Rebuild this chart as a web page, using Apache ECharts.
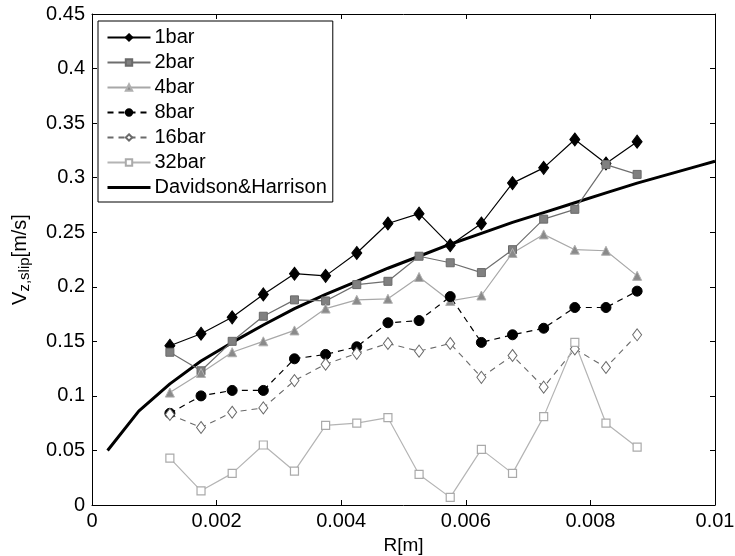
<!DOCTYPE html>
<html><head><meta charset="utf-8">
<script src="https://cdn.jsdelivr.net/npm/echarts@6/dist/echarts.min.js"></script>
<style>html,body{margin:0;padding:0;background:#fff}#c{width:735px;height:556px}</style>
</head><body><div id="c"></div>
<script>
const radii = [0.00125,0.00175,0.00225,0.00275,0.00325,0.00375,0.00425,0.00475,0.00525,0.00575,0.00625,0.00675,0.00725,0.00775,0.00825,0.00875];
const bar1  = [0.146,0.157,0.172,0.193,0.212,0.210,0.231,0.258,0.267,0.238,0.258,0.295,0.309,0.335,0.313,0.333];
const bar2  = [0.140,0.123,0.150,0.173,0.188,0.187,0.202,0.205,0.228,0.222,0.213,0.234,0.262,0.271,0.312,0.303];
const bar4  = [0.103,0.121,0.140,0.150,0.160,0.180,0.188,0.189,0.209,0.187,0.192,0.231,0.248,0.234,0.233,0.210];
const bar8  = [0.084,0.100,0.105,0.105,0.134,0.138,0.145,0.167,0.169,0.191,0.149,0.156,0.162,0.181,0.181,0.196];
const bar16 = [0.083,0.071,0.085,0.089,0.114,0.129,0.139,0.148,0.141,0.148,0.117,0.137,0.108,0.143,0.126,0.156];
const bar32 = [0.043,0.013,0.029,0.055,0.031,0.073,0.075,0.080,0.028,0.007,0.051,0.029,0.081,0.149,0.075,0.053];
const dhR   = [0.00025,0.00075,0.00125,0.00175,0.00225,0.00275,0.00325,0.00375,0.00425,0.00475,0.00525,0.00575,0.00625,0.00675,0.00725,0.00775,0.00825,0.00875,0.00925,0.00975,0.01];
const dhV   = [0.050,0.086,0.111,0.132,0.149,0.165,0.180,0.193,0.205,0.217,0.228,0.239,0.249,0.259,0.268,0.277,0.286,0.295,0.303,0.311,0.315];
const seriesNames = ['1bar','2bar','4bar','8bar','16bar','32bar','Davidson&Harrison'];
const xTicks = {min:0, max:0.01, interval:0.002};
const yTicks = {min:0, max:0.45, interval:0.05};

const zip = (xs, ys) => xs.map((x,i)=>[x, ys[i]]);
const font = 'Liberation Sans, Arial, sans-serif';
const fmt = v => String(parseFloat(v.toFixed(4)));

function mk(name, ys, opt) {
  return Object.assign({
    name, type:'line', data: zip(radii, ys), xAxisIndex:0, yAxisIndex:0,
    animation:false, z:3
  }, opt);
}

const chart = echarts.init(document.getElementById('c'), null, {renderer:'canvas'});
const axisCommon = {
  axisLine:{show:true, onZero:false, lineStyle:{color:'#000', width:1}},
  axisTick:{show:true, inside:true, length:5, lineStyle:{color:'#000'}},
  splitLine:{show:false}
};
chart.setOption({
  animation:false,
  backgroundColor:'#fff',
  grid:{left:92, right:20, top:14, bottom:51, containLabel:false, outerBoundsMode:'none'},
  textStyle:{fontFamily:font},
  xAxis:[
    Object.assign({type:'value', position:'bottom', min:xTicks.min, max:xTicks.max, interval:xTicks.interval,
      name:'R[m]', nameLocation:'middle', nameGap:23,
      nameTextStyle:{fontSize:19, color:'#000', fontFamily:font},
      axisLabel:{fontSize:20, color:'#000', fontFamily:font, margin:6, formatter:fmt}}, axisCommon),
    Object.assign({type:'value', position:'top', min:xTicks.min, max:xTicks.max, interval:xTicks.interval,
      axisLabel:{show:false}}, axisCommon)
  ],
  yAxis:[
    Object.assign({type:'value', position:'left', min:yTicks.min, max:yTicks.max, interval:yTicks.interval,
      name:'{a|V}{b|z,slip}{a|[m/s]}', nameLocation:'middle', nameGap:62, nameRotate:90,
      nameTextStyle:{color:'#000', fontFamily:font, rich:{
        a:{fontSize:20, color:'#000', fontFamily:font},
        b:{fontSize:15, color:'#000', fontFamily:font, padding:[0,0,-10,0]}
      }},
      axisLabel:{fontSize:20, color:'#000', fontFamily:font, margin:7, formatter:fmt}}, axisCommon),
    Object.assign({type:'value', position:'right', min:yTicks.min, max:yTicks.max, interval:yTicks.interval,
      axisLabel:{show:false}}, axisCommon)
  ],
  legend:{
    show:true, orient:'vertical', left:98, top:21,
    data: seriesNames.slice(0,6).concat([{name:seriesNames[6], icon:'path://M0,0h44v3h-44z', itemStyle:{color:'#000'}}]),
    backgroundColor:'#fff', borderColor:'#000', borderWidth:1, borderRadius:0,
    padding:[4,6,2,8.5], itemWidth:43, itemHeight:8, itemGap:0,
    textStyle:{fontSize:20, color:'#000', fontFamily:font, lineHeight:25, padding:[0,0,0,-1]}
  },
  series:[
    mk(seriesNames[0], bar1, {symbol:'diamond', symbolSize:[10,13],
      lineStyle:{color:'#000', width:1.2}, itemStyle:{color:'#000', borderColor:'#000', borderWidth:1}}),
    mk(seriesNames[1], bar2, {symbol:'rect', symbolSize:8,
      lineStyle:{color:'#6e6e6e', width:1.2}, itemStyle:{color:'#808080', borderColor:'#6a6a6a', borderWidth:1}}),
    mk(seriesNames[2], bar4, {symbol:'triangle', symbolSize:9,
      lineStyle:{color:'#a8a8a8', width:1.2}, itemStyle:{color:'#8a8a8a', borderColor:'#b0b0b0', borderWidth:1}}),
    mk(seriesNames[3], bar8, {symbol:'circle', symbolSize:10,
      lineStyle:{color:'#000', width:1.2, type:[6,5]}, itemStyle:{color:'#000', borderColor:'#000', borderWidth:1}}),
    mk(seriesNames[4], bar16, {symbol:'diamond', symbolSize:[9,12],
      lineStyle:{color:'#6a6a6a', width:1.1, type:[6,5]}, itemStyle:{color:'#fff', borderColor:'#6a6a6a', borderWidth:1}}),
    mk(seriesNames[5], bar32, {symbol:'rect', symbolSize:8,
      lineStyle:{color:'#b4b4b4', width:1.2}, itemStyle:{color:'#fff', borderColor:'#aaaaaa', borderWidth:1.2}}),
    {name:seriesNames[6], type:'line', data:zip(dhR, dhV), showSymbol:false, symbol:'none',
      lineStyle:{color:'#000', width:3}, itemStyle:{color:'#000'}, z:2, clip:true}
  ]
});
</script></body></html>
